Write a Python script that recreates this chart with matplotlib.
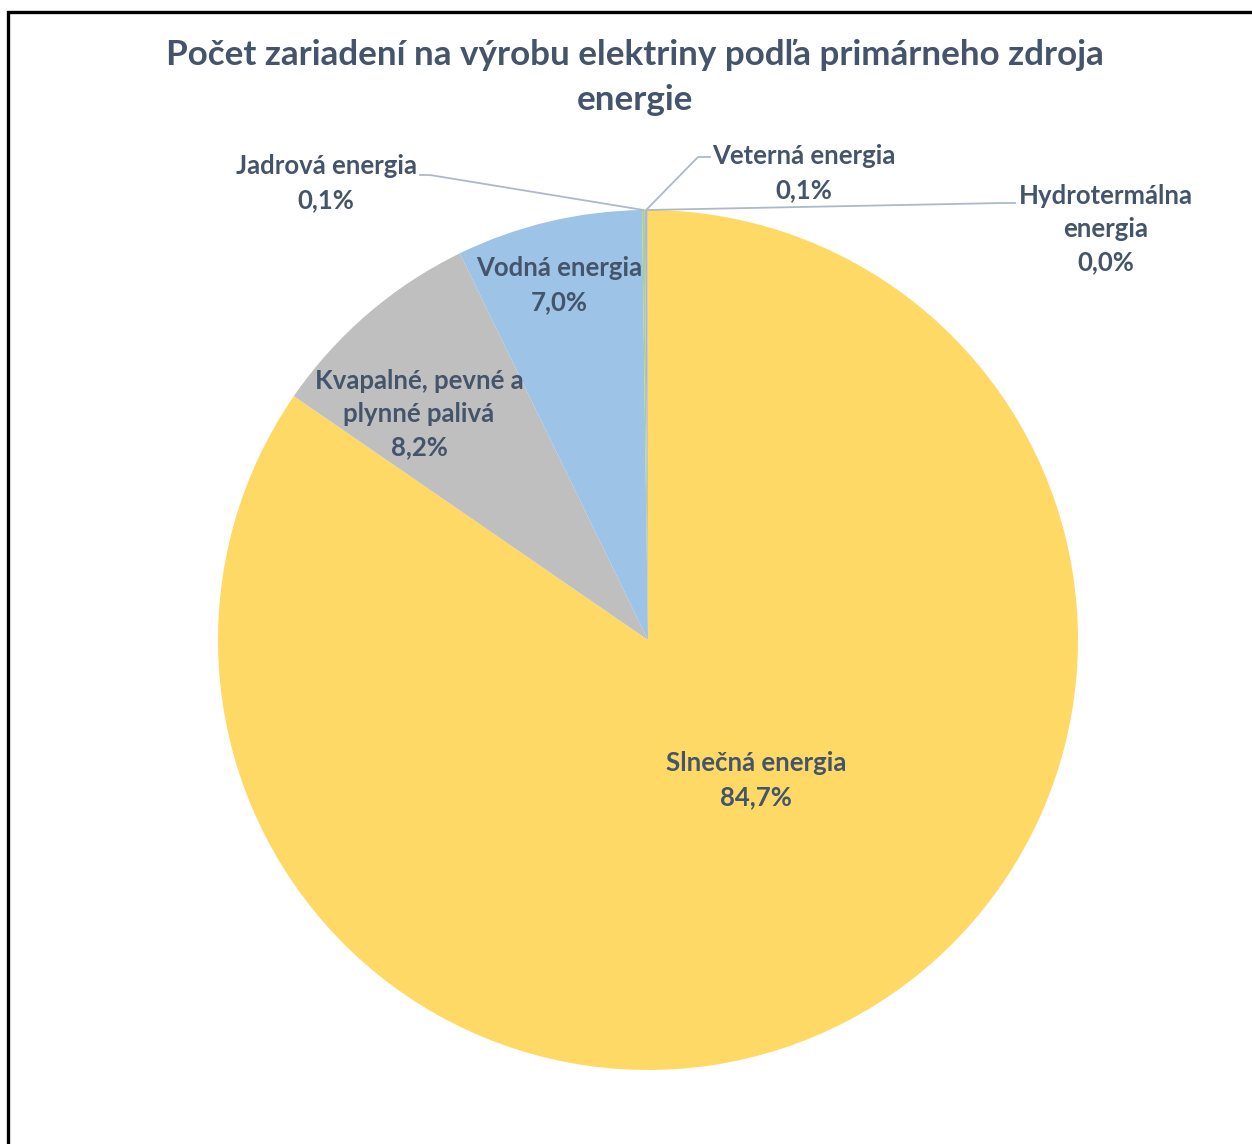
import numpy as np
import matplotlib.pyplot as plt

labels = ['Slnečná energia', 'Kvapalné, pevné a\nplynné palivá', 'Vodná energia',
          'Jadrová energia', 'Veterná energia', 'Hydrotermálna\nenergia']
values = [84.7, 8.2, 7.0, 0.1, 0.1, 0.02]
shown = ['84,7%', '8,2%', '7,0%', '0,1%', '0,1%', '0,0%']
colors = ['#FFD966', '#BFBFBF', '#9DC3E6', '#A9D18E', '#ADB9CA', '#F4B183']

txt_col = '#44546A'
line_col = '#ADB9CA'
W, H = 1252, 1144
cx, cy, R = 648, H - 640, 430

plt.rcParams['font.family'] = ['Lato', 'DejaVu Sans']

fig = plt.figure(figsize=(W / 100, H / 100), dpi=100)
ax = fig.add_axes([0, 0, 1, 1])

wedges, _ = ax.pie(values, colors=colors, startangle=90, counterclock=False,
                   center=(cx, cy), radius=R, frame=True,
                   wedgeprops=dict(linewidth=0))
ax.set_xlim(0, W)
ax.set_ylim(0, H)
ax.set_aspect('equal')
ax.axis('off')

# frame of the chart area (left and top edge visible)
ax.plot([8, 8, W + 5], [-5, H - 12, H - 12], color='black', lw=2.4, solid_joinstyle='miter')

ax.text(635, H - 55, 'Počet zariadení na výrobu elektriny podľa primárneho zdroja',
        ha='center', va='center', fontsize=25.2, fontweight='bold', color=txt_col)
ax.text(635, H - 100, 'energie', ha='center', va='center', fontsize=25.2,
        fontweight='bold', color=txt_col)

# label positions (pixel layout of text block centres)
lab_pos = [(756, 780), (419, 414), (559, 285), (326, 183), (804, 173), (1106, 229)]
for i, (lab, pct) in enumerate(zip(labels, shown)):
    x, y = lab_pos[i]
    ax.text(x, H - y, lab + '\n' + pct, ha='center', va='center', fontsize=18.5,
            fontweight='bold', color=txt_col, linespacing=1.47)

# leader lines for the tiny slices
def edge_point(w):
    ang = np.deg2rad((w.theta1 + w.theta2) / 2)
    return cx + R * np.cos(ang), cy + R * np.sin(ang)

leaders = {3: [(420, 175), (430, 175)], 4: [(710, 157), (698, 157)], 5: [(1015, 203), (1003, 203)]}
for i, pts in leaders.items():
    ex, ey = edge_point(wedges[i])
    xs = [p[0] for p in pts] + [ex]
    ys = [H - p[1] for p in pts] + [ey]
    ax.plot(xs, ys, color=line_col, lw=1.3)

fig.savefig('out.png', dpi=100, facecolor='white')
